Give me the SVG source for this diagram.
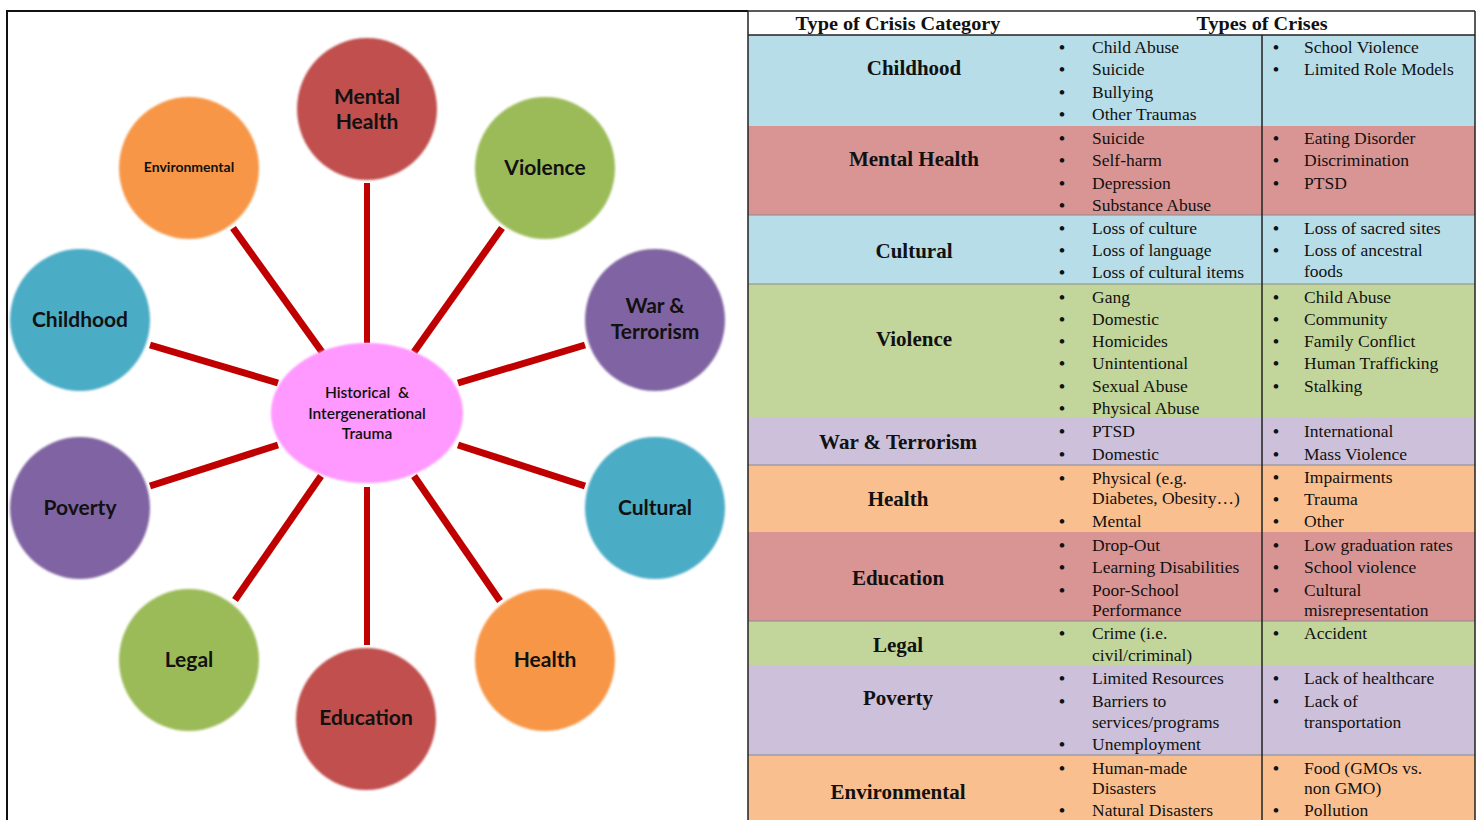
<svg xmlns="http://www.w3.org/2000/svg" width="1480" height="820" viewBox="0 0 1480 820">
<style>
.c-red{fill:#c0504d}.c-org{fill:#f79646}.c-grn{fill:#9bbb59}.c-blu{fill:#4bacc6}.c-pur{fill:#8064a2}.c-pnk{fill:#ff99ff}
.nl{font-family:Lato,"Open Sans",sans-serif;font-weight:700;font-size:21px;fill:#111;text-anchor:middle}
.ns{font-size:14px}
.nc{font-family:Lato,"Open Sans",sans-serif;font-weight:600;font-size:15.5px;fill:#111;text-anchor:middle;white-space:pre}
.con line{stroke:#c00000;stroke-width:7;stroke-linecap:butt}
.con line.v{stroke-width:6}
.frame{stroke:#111;stroke-width:2;fill:none}
.tl{stroke:#222;stroke-width:1.5;fill:none}
.rl{stroke:#8a8a8a;stroke-width:1}
.hd{font-family:"Liberation Serif","Times New Roman",serif;font-weight:700;font-size:19px;fill:#111;text-anchor:middle}
.cat{font-family:"Liberation Serif","Times New Roman",serif;font-weight:700;font-size:21px;fill:#111;text-anchor:middle}
.it{font-family:"Liberation Serif","Times New Roman",serif;font-size:17.5px;fill:#111}
.bl{font-family:"Liberation Serif","Times New Roman",serif;font-size:17px;font-weight:700;fill:#111;text-anchor:middle}
.bg-blue{fill:#b7dde8}.bg-red{fill:#d99594}.bg-grn{fill:#c2d69b}.bg-pur{fill:#ccc0da}.bg-org{fill:#fabf8f}
</style>
<defs>
<filter id="soft" x="-10%" y="-10%" width="120%" height="120%"><feGaussianBlur stdDeviation="0.8"/></filter>
</defs>
<rect x="0" y="0" width="1480" height="820" fill="#ffffff"/>

<!-- left frame -->
<path class="frame" d="M7,820 V11 H748"/>

<!-- connectors -->
<g id="connectors" class="con">
<line class="v" x1="367" y1="183" x2="367" y2="343"/>
<line x1="233" y1="228" x2="322" y2="352"/>
<line x1="502" y1="228" x2="414" y2="352"/>
<line x1="150" y1="345" x2="278" y2="383"/>
<line x1="585" y1="345" x2="458" y2="383"/>
<line x1="150" y1="486" x2="278" y2="445"/>
<line x1="585" y1="486" x2="458" y2="445"/>
<line x1="235" y1="600" x2="321" y2="476"/>
<line x1="500" y1="601" x2="414" y2="476"/>
<line class="v" x1="367" y1="487" x2="367" y2="645"/>
</g>

<!-- nodes -->
<g id="node-center"><ellipse class="c-pnk" cx="367" cy="413" rx="96" ry="70" filter="url(#soft)"/>
<text class="nc" x="367" y="398" xml:space="preserve">Historical  &amp;</text><text class="nc" x="367" y="419">Intergenerational</text><text class="nc" x="367" y="439">Trauma</text></g>
<g id="node-mental-health"><ellipse class="c-red" cx="367" cy="109" rx="70" ry="71" filter="url(#soft)"/>
<text class="nl" x="367" y="104">Mental</text><text class="nl" x="367" y="129">Health</text></g>
<g id="node-environmental"><ellipse class="c-org" cx="189" cy="168" rx="70" ry="71" filter="url(#soft)"/>
<text class="nl ns" x="189" y="172">Environmental</text></g>
<g id="node-violence"><ellipse class="c-grn" cx="545" cy="168" rx="70" ry="71" filter="url(#soft)"/>
<text class="nl" x="545" y="175">Violence</text></g>
<g id="node-childhood"><ellipse class="c-blu" cx="80" cy="320" rx="70" ry="71" filter="url(#soft)"/>
<text class="nl" x="80" y="327">Childhood</text></g>
<g id="node-war"><ellipse class="c-pur" cx="655" cy="320" rx="70" ry="71" filter="url(#soft)"/>
<text class="nl" x="655" y="313">War &amp;</text><text class="nl" x="655" y="339">Terrorism</text></g>
<g id="node-poverty"><ellipse class="c-pur" cx="80" cy="508" rx="70" ry="71" filter="url(#soft)"/>
<text class="nl" x="80" y="515">Poverty</text></g>
<g id="node-cultural"><ellipse class="c-blu" cx="655" cy="508" rx="70" ry="71" filter="url(#soft)"/>
<text class="nl" x="655" y="515">Cultural</text></g>
<g id="node-legal"><ellipse class="c-grn" cx="189" cy="660" rx="70" ry="71" filter="url(#soft)"/>
<text class="nl" x="189" y="667">Legal</text></g>
<g id="node-health"><ellipse class="c-org" cx="545" cy="660" rx="70" ry="71" filter="url(#soft)"/>
<text class="nl" x="545" y="667">Health</text></g>
<g id="node-education"><ellipse class="c-red" cx="366" cy="719" rx="70" ry="71" filter="url(#soft)"/>
<text class="nl" x="366" y="725">Education</text></g>

<!-- table -->
<g id="table">
<rect class="bg-blue" x="748" y="35" width="727" height="91"/>
<rect class="bg-red" x="748" y="126" width="727" height="89"/>
<rect class="bg-blue" x="748" y="215" width="727" height="69"/>
<rect class="bg-grn" x="748" y="284" width="727" height="134"/>
<rect class="bg-pur" x="748" y="418" width="727" height="47"/>
<rect class="bg-org" x="748" y="465" width="727" height="67"/>
<rect class="bg-red" x="748" y="532" width="727" height="89"/>
<rect class="bg-grn" x="748" y="621" width="727" height="44"/>
<rect class="bg-pur" x="748" y="665" width="727" height="90"/>
<rect class="bg-org" x="748" y="755" width="727" height="65"/>
<line class="rl" x1="748" y1="215" x2="1475" y2="215"/>
<line class="rl" x1="748" y1="284" x2="1475" y2="284"/>
<line class="rl" x1="748" y1="465" x2="1475" y2="465"/>
<line class="rl" x1="748" y1="621" x2="1475" y2="621"/>
<line class="rl" x1="748" y1="755" x2="1475" y2="755"/>
<line class="tl" x1="748" y1="11" x2="1475" y2="11"/>
<line class="tl" x1="748" y1="35" x2="1475" y2="35"/>
<line class="tl" x1="748" y1="11" x2="748" y2="820"/>
<line class="tl" x1="1475" y1="11" x2="1475" y2="820"/>
<line class="tl" x1="1262" y1="35" x2="1262" y2="820"/>

<text class="hd" x="898" y="30" textLength="205" lengthAdjust="spacingAndGlyphs">Type of Crisis Category</text>
<text class="hd" x="1262" y="30" textLength="131" lengthAdjust="spacingAndGlyphs">Types of Crises</text>

<g id="row-childhood">
<text class="cat" x="914" y="75">Childhood</text>
<text class="bl" x="1062" y="53">•</text><text class="it" x="1092" y="53">Child Abuse</text>
<text class="bl" x="1062" y="75">•</text><text class="it" x="1092" y="75">Suicide</text>
<text class="bl" x="1062" y="98">•</text><text class="it" x="1092" y="98">Bullying</text>
<text class="bl" x="1062" y="120">•</text><text class="it" x="1092" y="120">Other Traumas</text>
<text class="bl" x="1276" y="53">•</text><text class="it" x="1304" y="53">School Violence</text>
<text class="bl" x="1276" y="75">•</text><text class="it" x="1304" y="75">Limited Role Models</text>
</g>
<g id="row-mental-health">
<text class="cat" x="914" y="166">Mental Health</text>
<text class="bl" x="1062" y="144">•</text><text class="it" x="1092" y="144">Suicide</text>
<text class="bl" x="1062" y="166">•</text><text class="it" x="1092" y="166">Self-harm</text>
<text class="bl" x="1062" y="189">•</text><text class="it" x="1092" y="189">Depression</text>
<text class="bl" x="1062" y="211">•</text><text class="it" x="1092" y="211">Substance Abuse</text>
<text class="bl" x="1276" y="144">•</text><text class="it" x="1304" y="144">Eating Disorder</text>
<text class="bl" x="1276" y="166">•</text><text class="it" x="1304" y="166">Discrimination</text>
<text class="bl" x="1276" y="189">•</text><text class="it" x="1304" y="189">PTSD</text>
</g>
<g id="row-cultural">
<text class="cat" x="914" y="258">Cultural</text>
<text class="bl" x="1062" y="234">•</text><text class="it" x="1092" y="234">Loss of culture</text>
<text class="bl" x="1062" y="256">•</text><text class="it" x="1092" y="256">Loss of language</text>
<text class="bl" x="1062" y="278">•</text><text class="it" x="1092" y="278">Loss of cultural items</text>
<text class="bl" x="1276" y="234">•</text><text class="it" x="1304" y="234">Loss of sacred sites</text>
<text class="bl" x="1276" y="256">•</text><text class="it" x="1304" y="256">Loss of ancestral</text>
<text class="it" x="1304" y="277">foods</text>
</g>
<g id="row-violence">
<text class="cat" x="914" y="346">Violence</text>
<text class="bl" x="1062" y="303">•</text><text class="it" x="1092" y="303">Gang</text>
<text class="bl" x="1062" y="325">•</text><text class="it" x="1092" y="325">Domestic</text>
<text class="bl" x="1062" y="347">•</text><text class="it" x="1092" y="347">Homicides</text>
<text class="bl" x="1062" y="369">•</text><text class="it" x="1092" y="369">Unintentional</text>
<text class="bl" x="1062" y="392">•</text><text class="it" x="1092" y="392">Sexual Abuse</text>
<text class="bl" x="1062" y="414">•</text><text class="it" x="1092" y="414">Physical Abuse</text>
<text class="bl" x="1276" y="303">•</text><text class="it" x="1304" y="303">Child Abuse</text>
<text class="bl" x="1276" y="325">•</text><text class="it" x="1304" y="325">Community</text>
<text class="bl" x="1276" y="347">•</text><text class="it" x="1304" y="347">Family Conflict</text>
<text class="bl" x="1276" y="369">•</text><text class="it" x="1304" y="369">Human Trafficking</text>
<text class="bl" x="1276" y="392">•</text><text class="it" x="1304" y="392">Stalking</text>
</g>
<g id="row-war">
<text class="cat" x="898" y="449">War &amp; Terrorism</text>
<text class="bl" x="1062" y="437">•</text><text class="it" x="1092" y="437">PTSD</text>
<text class="bl" x="1062" y="460">•</text><text class="it" x="1092" y="460">Domestic</text>
<text class="bl" x="1276" y="437">•</text><text class="it" x="1304" y="437">International</text>
<text class="bl" x="1276" y="460">•</text><text class="it" x="1304" y="460">Mass Violence</text>
</g>
<g id="row-health">
<text class="cat" x="898" y="506">Health</text>
<text class="bl" x="1062" y="484">•</text><text class="it" x="1092" y="484">Physical (e.g.</text>
<text class="it" x="1092" y="504">Diabetes, Obesity…)</text>
<text class="bl" x="1062" y="527">•</text><text class="it" x="1092" y="527">Mental</text>
<text class="bl" x="1276" y="483">•</text><text class="it" x="1304" y="483">Impairments</text>
<text class="bl" x="1276" y="505">•</text><text class="it" x="1304" y="505">Trauma</text>
<text class="bl" x="1276" y="527">•</text><text class="it" x="1304" y="527">Other</text>
</g>
<g id="row-education">
<text class="cat" x="898" y="585">Education</text>
<text class="bl" x="1062" y="551">•</text><text class="it" x="1092" y="551">Drop-Out</text>
<text class="bl" x="1062" y="573">•</text><text class="it" x="1092" y="573">Learning Disabilities</text>
<text class="bl" x="1062" y="596">•</text><text class="it" x="1092" y="596">Poor-School</text>
<text class="it" x="1092" y="616">Performance</text>
<text class="bl" x="1276" y="551">•</text><text class="it" x="1304" y="551">Low graduation rates</text>
<text class="bl" x="1276" y="573">•</text><text class="it" x="1304" y="573">School violence</text>
<text class="bl" x="1276" y="596">•</text><text class="it" x="1304" y="596">Cultural</text>
<text class="it" x="1304" y="616">misrepresentation</text>
</g>
<g id="row-legal">
<text class="cat" x="898" y="652">Legal</text>
<text class="bl" x="1062" y="639">•</text><text class="it" x="1092" y="639">Crime (i.e.</text>
<text class="it" x="1092" y="661">civil/criminal)</text>
<text class="bl" x="1276" y="639">•</text><text class="it" x="1304" y="639">Accident</text>
</g>
<g id="row-poverty">
<text class="cat" x="898" y="705">Poverty</text>
<text class="bl" x="1062" y="684">•</text><text class="it" x="1092" y="684">Limited Resources</text>
<text class="bl" x="1062" y="707">•</text><text class="it" x="1092" y="707">Barriers to</text>
<text class="it" x="1092" y="728">services/programs</text>
<text class="bl" x="1062" y="750">•</text><text class="it" x="1092" y="750">Unemployment</text>
<text class="bl" x="1276" y="684">•</text><text class="it" x="1304" y="684">Lack of healthcare</text>
<text class="bl" x="1276" y="707">•</text><text class="it" x="1304" y="707">Lack of</text>
<text class="it" x="1304" y="728">transportation</text>
</g>
<g id="row-environmental">
<text class="cat" x="898" y="799">Environmental</text>
<text class="bl" x="1062" y="774">•</text><text class="it" x="1092" y="774">Human-made</text>
<text class="it" x="1092" y="794">Disasters</text>
<text class="bl" x="1062" y="816">•</text><text class="it" x="1092" y="816">Natural Disasters</text>
<text class="bl" x="1276" y="774">•</text><text class="it" x="1304" y="774">Food (GMOs vs.</text>
<text class="it" x="1304" y="794">non GMO)</text>
<text class="bl" x="1276" y="816">•</text><text class="it" x="1304" y="816">Pollution</text>
</g>
</g>
</svg>
